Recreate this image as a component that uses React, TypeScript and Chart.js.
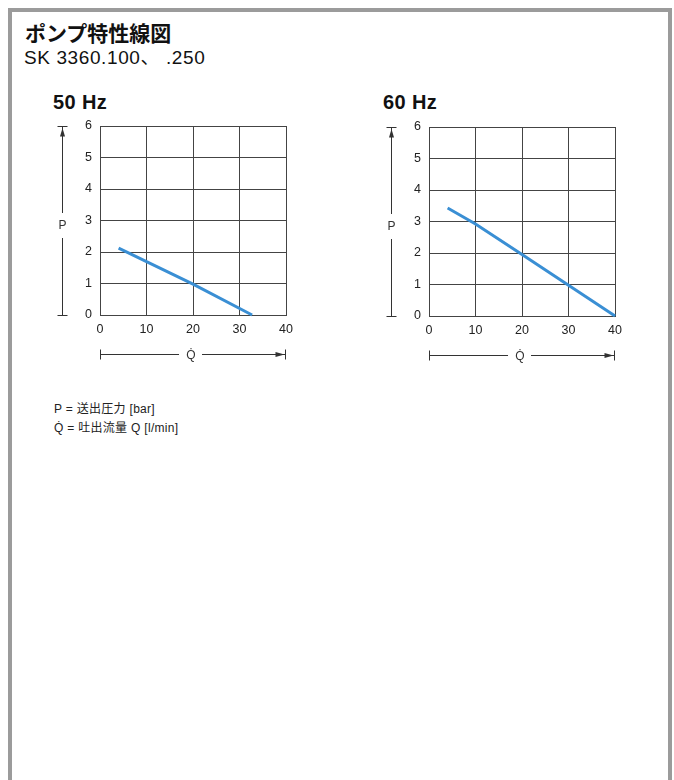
import React, { useEffect, useRef } from "react";
import { Chart, registerables } from "chart.js";

Chart.register(...registerables);

// ---- data ----
const xTickValues = [0, 10, 20, 30, 40];
const yTickValues = [0, 1, 2, 3, 4, 5, 6];
const flow50 = [4, 20, 32.7];
const pressure50 = [2.12, 0.98, 0];
const flow60 = [4, 10, 20, 30, 40];
const pressure60 = [3.43, 2.92, 1.95, 0.98, 0];
const panelTitles = ["50 Hz", "60 Hz"];
const yAxisLabel = "P";
const xAxisLabel = "Q\u0307";
const titleText = "ポンプ特性線図";
const subtitleText = "SK 3360.100、 .250";
const legendLines = ["P = 送出圧力 [bar]", "Q\u0307 = 吐出流量 Q [l/min]"];

const LATIN = '"Liberation Sans", "Noto Sans CJK JP", sans-serif';
const LINE_COLOR = "#3a8fd4";
const GRID_COLOR = "#444";

const arrowPlugin = {
  id: "pqArrows",
  afterDraw(chart: any) {
    const { ctx, chartArea } = chart;
    const { left, right, top, bottom } = chartArea;
    ctx.save();
    ctx.strokeStyle = "#333";
    ctx.fillStyle = "#333";
    ctx.lineWidth = 1;
    // vertical P arrow
    const vx = Math.round(left - 38) + 0.5;
    const pY = top + 100;
    const t = Math.round(top) + 0.5;
    const b = Math.round(bottom) + 0.5;
    ctx.beginPath();
    ctx.moveTo(vx, t);
    ctx.lineTo(vx, pY - 13);
    ctx.moveTo(vx, pY + 12);
    ctx.lineTo(vx, b);
    ctx.moveTo(vx - 5, t);
    ctx.lineTo(vx + 5, t);
    ctx.moveTo(vx - 5, b);
    ctx.lineTo(vx + 5, b);
    ctx.stroke();
    ctx.beginPath();
    ctx.moveTo(vx, t + 1.5);
    ctx.lineTo(vx - 2.5, t + 10);
    ctx.lineTo(vx + 2.5, t + 10);
    ctx.closePath();
    ctx.fill();
    ctx.font = "12px " + LATIN;
    ctx.textAlign = "center";
    ctx.textBaseline = "middle";
    ctx.fillText(yAxisLabel, vx, pY);
    // horizontal Q arrow
    const hy = Math.round(bottom + 39) + 0.5;
    const l = Math.round(left) + 0.5;
    const r = Math.round(right) - 0.5;
    const qx = (left + right) / 2;
    ctx.beginPath();
    ctx.moveTo(l, hy);
    ctx.lineTo(qx - 14, hy);
    ctx.moveTo(qx + 9, hy);
    ctx.lineTo(r, hy);
    ctx.moveTo(l, hy - 5);
    ctx.lineTo(l, hy + 5);
    ctx.moveTo(r, hy - 5);
    ctx.lineTo(r, hy + 5);
    ctx.stroke();
    ctx.beginPath();
    ctx.moveTo(r - 1, hy);
    ctx.lineTo(r - 10, hy - 2.5);
    ctx.lineTo(r - 10, hy + 2.5);
    ctx.closePath();
    ctx.fill();
    ctx.fillText(xAxisLabel, qx - 2, hy + 1);
    ctx.restore();
  },
};

function PumpChart({ xs, ys }: { xs: number[]; ys: number[] }) {
  const ref = useRef<HTMLCanvasElement | null>(null);
  useEffect(() => {
    if (!ref.current) return;
    const points = xs.map((x, i) => ({ x, y: ys[i] }));
    const chart = new Chart(ref.current, {
      type: "scatter",
      data: {
        datasets: [
          {
            data: points,
            showLine: true,
            borderColor: LINE_COLOR,
            backgroundColor: LINE_COLOR,
            borderWidth: 3,
            pointRadius: 0,
            tension: 0,
            clip: false,
          } as any,
        ],
      },
      options: {
        responsive: false,
        animation: false,
        devicePixelRatio: 1,
        layout: { padding: { left: 30, right: 11, top: 16, bottom: 45 } },
        plugins: { legend: { display: false }, tooltip: { enabled: false } },
        scales: {
          x: {
            type: "linear",
            min: 0,
            max: 40,
            afterBuildTicks: (scale: any) => {
              scale.ticks = xTickValues.map((v) => ({ value: v }));
            },
            afterFit: (scale: any) => {
              scale.height = 20;
            },
            grid: { color: GRID_COLOR, lineWidth: 1, drawTicks: false },
            border: { color: GRID_COLOR, width: 1 },
            ticks: {
              padding: 7,
              color: "#222",
              font: { family: LATIN, size: 12.5 },
              maxRotation: 0,
            },
          },
          y: {
            type: "linear",
            min: 0,
            max: 6,
            afterBuildTicks: (scale: any) => {
              scale.ticks = yTickValues.map((v) => ({ value: v }));
            },
            afterFit: (scale: any) => {
              scale.width = 30;
            },
            grid: { color: GRID_COLOR, lineWidth: 1, drawTicks: false },
            border: { color: GRID_COLOR, width: 1 },
            ticks: {
              padding: 8,
              color: "#222",
              font: { family: LATIN, size: 12.5 },
            },
          },
        },
      },
      plugins: [arrowPlugin],
    });
    return () => chart.destroy();
  }, [xs, ys]);
  return <canvas ref={ref} width={260} height={270} style={{ display: "block" }} />;
}

export default function App() {
  const abs = (left: number, top: number): React.CSSProperties => ({
    position: "absolute",
    left,
    top,
    whiteSpace: "nowrap",
  });
  return (
    <div
      style={{
        position: "absolute",
        left: 0,
        top: 0,
        width: 674,
        height: 780,
        overflow: "hidden",
        background: "#fff",
        fontFamily: LATIN,
        color: "#111",
      }}
    >
      <div
        style={{
          position: "absolute",
          left: 8,
          top: 8,
          width: 664,
          height: 800,
          border: "4px solid #9b9b9b",
          borderBottom: "none",
          boxSizing: "border-box",
        }}
      />
      <div style={{ ...abs(25, 22), fontSize: 21, lineHeight: "21px", fontWeight: 700, fontFamily: '"Noto Sans CJK JP", sans-serif' }}>
        {titleText}
      </div>
      <div style={{ ...abs(24, 48), fontSize: 19, lineHeight: "19px", letterSpacing: "0.6px" }}>{subtitleText}</div>
      <div style={{ ...abs(53, 92), fontSize: 20, lineHeight: "20px", fontWeight: 700, letterSpacing: "0.4px" }}>{panelTitles[0]}</div>
      <div style={{ ...abs(383, 92), fontSize: 20, lineHeight: "20px", fontWeight: 700, letterSpacing: "0.4px" }}>{panelTitles[1]}</div>
      <div style={abs(40, 110)}>
        <PumpChart xs={flow50} ys={pressure50} />
      </div>
      <div style={abs(369, 111)}>
        <PumpChart xs={flow60} ys={pressure60} />
      </div>
      <div style={{ ...abs(54, 400), fontSize: 12, lineHeight: "18.5px", color: "#222", letterSpacing: "0.3px" }}>
        {legendLines.map((s, i) => (
          <div key={i}>{s}</div>
        ))}
      </div>
    </div>
  );
}
